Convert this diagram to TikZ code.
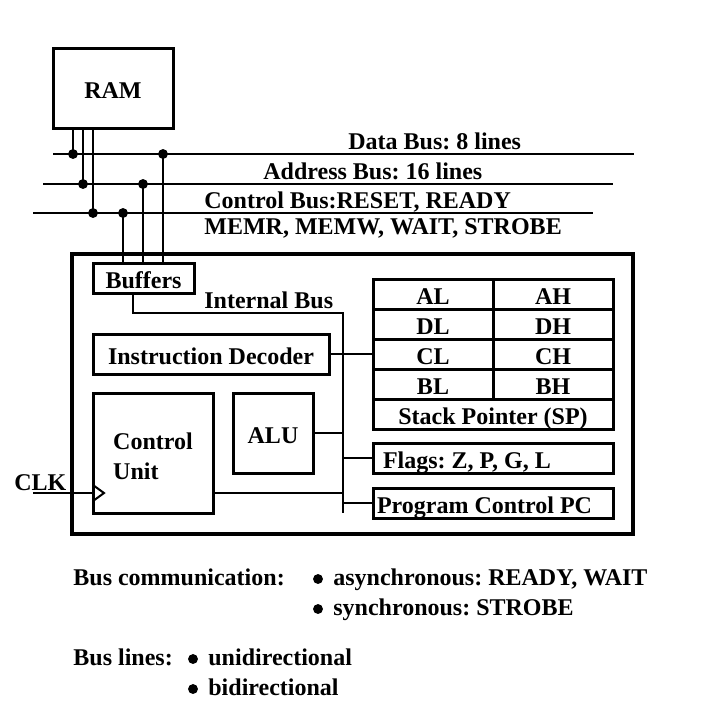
\documentclass[tikz,border=0pt]{standalone}
\usepackage{fontspec}
\setmainfont{Liberation Serif}
\begin{document}
\frenchspacing
\begin{tikzpicture}[x=0.5pt,y=-0.5pt,
	every node/.style={font=\fontsize{12}{15}\selectfont\bfseries},
	unit/.style={draw,line width=1.5pt,inner sep=0pt,outer sep=0pt},
	capline/.style={text height=10pt,text depth=0pt},
	reg/.style={unit,capline,minimum width=60pt,minimum height=15pt},
	wide/.style={unit,capline,minimum width=120pt,minimum height=15pt},
	lbl/.style={inner sep=0pt,anchor=base west},
	bus/.style={line width=1pt}]
	\useasboundingbox (0,0) rectangle (722,709);
	\node[unit,capline,minimum width=60pt,minimum height=40pt] (RAM) at (113,88) {RAM};
	\node[draw,line width=2pt,inner sep=0pt,outer sep=0pt,minimum width=280.5pt,minimum height=140pt] (CPU) at (352.5,394) {};
	\node[unit,capline,minimum width=50.5pt,minimum height=15pt] (Buffers) at (143.5,278) {Buffers};
	\node[unit,capline,minimum width=118pt,minimum height=20pt] (Decoder) at (211,354) {Instruction Decoder};
	\node[unit,minimum width=60pt,minimum height=60pt,align=flush left,text height=26pt,text depth=0pt] (CU) at (153,453) {Control\\Unit};
	\node[unit,capline,minimum width=40pt,minimum height=40pt] (ALU) at (273,433) {ALU};
	\node[reg] (AL) at (433,294) {AL};
	\node[reg] (AH) at (553,294) {AH};
	\node[reg] (DL) at (433,324) {DL};
	\node[reg] (DH) at (553,324) {DH};
	\node[reg] (CL) at (433,354) {CL};
	\node[reg] (CH) at (553,354) {CH};
	\node[reg] (BL) at (433,384) {BL};
	\node[reg] (BH) at (553,384) {BH};
	\node[wide] (SP) at (493,414) {Stack Pointer (SP)};
	\node[wide,text width=110pt,align=flush left] (Flags) at (493,458) {Flags: Z, P, G, L};
	\node[wide,text width=116pt,align=flush left] (PC) at (493,503) {Program Control PC};

	\coordinate (dataW) at (53,154);
	\coordinate (dataE) at (634,154);
	\coordinate (addrW) at (43,184);
	\coordinate (addrE) at (613,184);
	\coordinate (ctrlW) at (33,213);
	\coordinate (ctrlE) at (593,213);
	\draw[bus] (dataW) -- (dataE);
	\draw[bus] (addrW) -- (addrE);
	\draw[bus] (ctrlW) -- (ctrlE);
	\node[lbl] (datalbl) at (348,149) {Data Bus: 8 lines};
	\node[lbl] (addrlbl) at (263,179) {Address Bus: 16 lines};
	\node[lbl] (ctrllbl) at (204,208) {Control Bus:RESET, READY};
	\node[lbl] (ctrllbl2) at (204,234) {MEMR, MEMW, WAIT, STROBE};

	\coordinate (ramD) at (73,154);
	\coordinate (ramA) at (83,184);
	\coordinate (ramC) at (93,213);
	\coordinate (bufC) at (123,213);
	\coordinate (bufA) at (143,184);
	\coordinate (bufD) at (163,154);
	\foreach \p in {ramD,ramA,ramC}
		\draw[bus] (\p |- RAM.south) -- (\p);
	\foreach \p in {bufC,bufA,bufD}
		\draw[bus] (\p) -- (\p |- Buffers.north);
	\foreach \p in {ramD,ramA,ramC,bufC,bufA,bufD}
		\draw[fill=black] (\p) circle(4.5);

	\coordinate (ib1) at (133,313);
	\coordinate (ib2) at (343,313);
	\coordinate (ib3) at (343,513);
	\draw[bus] (ib1 |- Buffers.south) -- (ib1) -- (ib2) -- (ib3);
	\node[lbl] (ibus) at (204,308) {Internal Bus};
	\draw[bus] (Decoder.east) -- (CL.west);
	\draw[bus] (ALU.east) -- (ALU.east -| ib3);
	\draw[bus] (Flags.west -| ib3) -- (Flags.west);
	\draw[bus] (PC.west -| ib3) -- (PC.west);

	\coordinate (clk) at (33,493);
	\draw[bus] (clk) -- (clk -| CU.west);
	\draw[bus] (clk -| CU.west) ++(0,-8) -- ++(11,8) -- ++(-11,8);
	\draw[bus] (clk -| CU.east) -- (clk -| ib3);
	\node[lbl] (clklbl) at (14,490) {CLK};

	\node[lbl] (comm) at (73,585) {Bus communication:};
	\node[lbl] (async) at (333,585) {asynchronous: READY, WAIT};
	\node[lbl] (sync) at (333,615) {synchronous: STROBE};
	\node[lbl] (lines) at (73,665) {Bus lines:};
	\node[lbl] (uni) at (208,665) {unidirectional};
	\node[lbl] (bi) at (208,695) {bidirectional};
	\foreach \t in {async,sync,uni,bi}
		\draw[fill=black] ([xshift=-7.5pt,yshift=3pt]\t.base west) circle(4.5);
\end{tikzpicture}
\end{document}
